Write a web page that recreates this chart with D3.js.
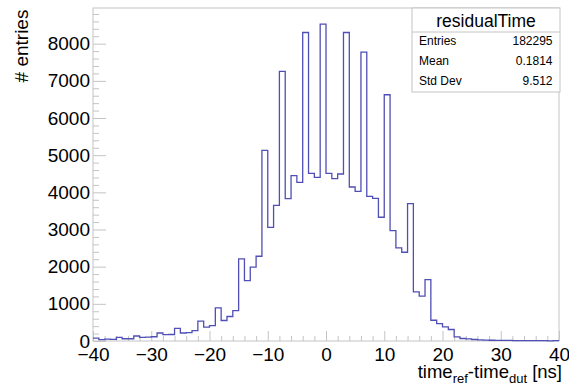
<!DOCTYPE html>
<html>
<head>
<meta charset="utf-8">
<script src="https://cdn.jsdelivr.net/npm/d3@7"></script>
<style>
  html, body { margin: 0; padding: 0; background: #fff; }
  svg { display: block; font-family: "Liberation Sans", Arial, Helvetica, sans-serif; }
</style>
</head>
<body>
<svg id="chart" width="569" height="386"></svg>
<script>
// ---- data (1 ns bins from -40 to 40) ----
const binLowEdges = d3.range(-40, 40, 1);
const binCounts = [
  80, 35, 50, 45, 95, 60, 60, 135, 100, 105,
  115, 215, 170, 175, 340, 215, 225, 280, 533, 372,
  416, 892, 551, 659, 820, 2210, 1626, 1990, 2280, 5130,
  3060, 3651, 7253, 3830, 4449, 4270, 8301, 4511, 4404, 8526,
  4511, 4368, 4494, 8301, 4144, 4027, 7773, 3893, 3840, 3330,
  6626, 2970, 2505, 2388, 3696, 1320, 1205, 1653, 559, 470,
  381, 309, 112, 67, 58, 40, 30, 25, 20, 15,
  18, 15, 12, 10, 12, 8, 10, 8, 6, 10
];
const xTicks = [-40, -30, -20, -10, 0, 10, 20, 30, 40];
const yTicks = [0, 1000, 2000, 3000, 4000, 5000, 6000, 7000, 8000];
const statsTitle = "residualTime";
const statsLabels = ["Entries", "Mean", "Std Dev"];
const statsValues = ["182295", "0.1814", "9.512"];

// ---- layout ----
const L = 93, R = 559, T = 8, B = 341;
const frameColor = "#c4c4c4";
const histColor = "#4f4fb6";

const svg = d3.select("#chart");
const x = d3.scaleLinear().domain([-40, 40]).range([L, R]);
const y = d3.scaleLinear().domain([0, 8960]).range([B, T]);

const minusFmt = d => (d < 0 ? "\u2212" + Math.abs(d) : String(d));

// minor ticks
const xMinor = d3.range(-40, 40.001, 2).filter(v => !xTicks.includes(v));
const yMinor = d3.range(0, 8960, 200).filter(v => !yTicks.includes(v));

const gx = svg.append("g").attr("transform", `translate(0,${B})`)
  .call(d3.axisBottom(x).tickValues(xMinor).tickSize(-5).tickFormat(""));
gx.selectAll(".tick line").attr("stroke", frameColor);
gx.select(".domain").remove();
const gx2 = svg.append("g").attr("transform", `translate(0,${B})`)
  .call(d3.axisBottom(x).tickValues(xTicks).tickSize(-10).tickPadding(7).tickFormat(minusFmt));
gx2.selectAll(".tick line").attr("stroke", frameColor);
gx2.selectAll("text").attr("fill", "#000").style("font-size", "19px");
gx2.select(".domain").remove();

const gy = svg.append("g").attr("transform", `translate(${L},0)`)
  .call(d3.axisLeft(y).tickValues(yMinor).tickSize(-6).tickFormat(""));
gy.selectAll(".tick line").attr("stroke", frameColor);
gy.select(".domain").remove();
const gy2 = svg.append("g").attr("transform", `translate(${L},0)`)
  .call(d3.axisLeft(y).tickValues(yTicks).tickSize(-13).tickPadding(3).tickFormat(d3.format("d")));
gy2.selectAll(".tick line").attr("stroke", frameColor);
gy2.selectAll("text").attr("fill", "#000").style("font-size", "19px");
gy2.select(".domain").remove();

// frame
svg.append("rect").attr("x", L).attr("y", T).attr("width", R - L).attr("height", B - T)
  .attr("fill", "none").attr("stroke", frameColor).attr("stroke-width", 1);

// histogram step outline
const pts = [];
binLowEdges.forEach((lo, i) => {
  pts.push([x(lo), y(binCounts[i])]);
  pts.push([x(lo + 1), y(binCounts[i])]);
});
svg.append("path")
  .attr("d", d3.line()(pts))
  .attr("fill", "none").attr("stroke", histColor).attr("stroke-width", 1.3);

// axis titles
svg.append("text")
  .attr("transform", `translate(28,46) rotate(-90)`)
  .attr("text-anchor", "middle").style("font-size", "19px").attr("fill", "#000")
  .text("# entries");

const xt = svg.append("text").attr("x", 562).attr("y", 378)
  .attr("text-anchor", "end").style("font-size", "18.5px").attr("fill", "#000");
xt.append("tspan").text("time");
xt.append("tspan").attr("dy", 5).style("font-size", "13px").text("ref");
xt.append("tspan").attr("dy", -5).text("-time");
xt.append("tspan").attr("dy", 5).style("font-size", "13px").text("dut");
xt.append("tspan").attr("dy", -5).text(" [ns]");

// stats box
const sbL = 412, sbR = 560, sbT = 8, sbB = 92, sbMid = 32;
svg.append("rect").attr("x", sbL).attr("y", sbT).attr("width", sbR - sbL).attr("height", sbB - sbT)
  .attr("fill", "#fff").attr("stroke", frameColor);
svg.append("line").attr("x1", sbL).attr("x2", sbR).attr("y1", sbMid).attr("y2", sbMid)
  .attr("stroke", frameColor);
svg.append("text").attr("x", (sbL + sbR) / 2).attr("y", 27)
  .attr("text-anchor", "middle").style("font-size", "17.5px").attr("fill", "#000")
  .text(statsTitle);
const rowY = [45, 65, 84.5];
statsLabels.forEach((lab, i) => {
  svg.append("text").attr("x", 419).attr("y", rowY[i])
    .style("font-size", "12px").attr("fill", "#000").text(lab);
  svg.append("text").attr("x", 552.5).attr("y", rowY[i]).attr("text-anchor", "end")
    .style("font-size", "12px").attr("fill", "#000").text(statsValues[i]);
});
</script>
</body>
</html>
